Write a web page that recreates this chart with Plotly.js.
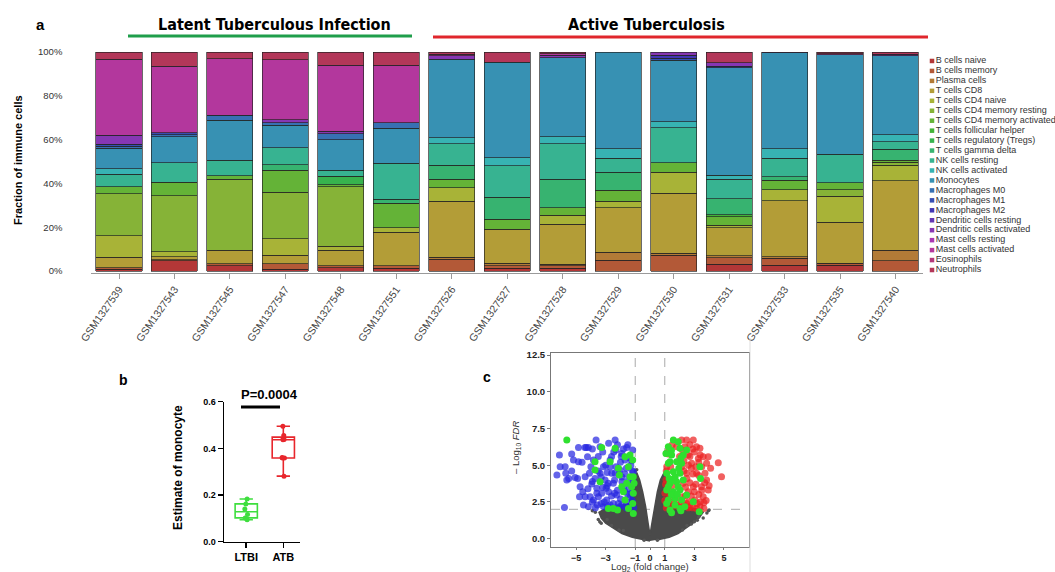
<!DOCTYPE html>
<html><head><meta charset="utf-8">
<script src="https://cdn.plot.ly/plotly-3.0.1.min.js"></script>
<style>html,body{margin:0;padding:0;background:#fff;}#chart{width:1055px;height:572px;}</style>
</head><body><div id="chart"></div>
<script>
// ---------- Panel a data (percent of immune cells) ----------
const samples = ['GSM1327539','GSM1327543','GSM1327545','GSM1327547','GSM1327548','GSM1327551','GSM1327526','GSM1327527','GSM1327528','GSM1327529','GSM1327530','GSM1327531','GSM1327533','GSM1327535','GSM1327540'];
const cellTypes = ['B cells naive','B cells memory','Plasma cells','T cells CD8','T cells CD4 naive','T cells CD4 memory resting','T cells CD4 memory activated','T cells follicular helper','T cells regulatory (Tregs)','T cells gamma delta','NK cells resting','NK cells activated','Monocytes','Macrophages M0','Macrophages M1','Macrophages M2','Dendritic cells resting','Dendritic cells activated','Mast cells resting','Mast cells activated','Eosinophils','Neutrophils'];
const bCellsNaive      = [0.8, 4.6, 2.4, 0.9, 1.5, 1.2, 0, 1.2, 1.2, 0, 0, 3.2, 2.7, 2.7, 0];
const bCellsMemory     = [0.7, 0.5, 0.9, 2.4, 0.9, 1.2, 5.3, 1.2, 1.2, 4.9, 7.3, 2.9, 3.1, 0.8, 4.6];
const plasmaCells      = [0, 0, 0, 0, 0, 0, 1.1, 1.1, 0.8, 3.6, 0.9, 0.9, 0.7, 0, 5.0];
const tCD8             = [4.9, 1.5, 6.1, 4.0, 7.0, 15.2, 25.5, 15.5, 18.1, 20.5, 27.4, 12.8, 25.6, 18.7, 31.6];
const tCD4Naive        = [9.6, 2.2, 0, 7.4, 2.0, 2.2, 6.2, 0, 4.2, 2.8, 9.4, 1.2, 5.1, 12.0, 7.1];
const tCD4MemResting   = [19.3, 25.5, 32.4, 21.3, 27.0, 0, 0, 0, 0, 0, 0, 0, 0, 2.9, 1.4];
const tCD4MemActivated = [3.2, 6.3, 1.8, 9.9, 1.1, 11.1, 3.7, 4.6, 3.4, 5.0, 4.4, 3.8, 4.3, 3.2, 0.9];
const tFollicular      = [0, 0, 0, 0, 0, 0, 0, 0, 0, 0, 0, 1.0, 0, 0, 0];
const tRegs            = [0, 0, 0, 0, 3.8, 0, 0, 0, 0, 0, 0, 0, 0, 0, 0];
const tGammaDelta      = [0, 0, 0, 2.7, 0, 1.8, 6.5, 10.0, 12.9, 8.2, 0, 7.3, 1.5, 0, 5.0];
const nkResting        = [5.8, 8.9, 6.9, 7.8, 2.7, 16.4, 9.9, 14.4, 16.4, 6.4, 16.1, 8.7, 8.4, 13.0, 3.4];
const nkActivated      = [2.3, 0, 0, 0, 0, 0, 2.6, 3.7, 3.0, 4.5, 2.6, 2.0, 4.5, 0, 3.3];
const monocytes        = [9.4, 11.7, 18.3, 10.2, 14.0, 16.2, 35.9, 43.7, 36.1, 44.1, 28.1, 48.9, 43.8, 45.5, 35.9];
const macroM0          = [1.0, 1.0, 2.3, 1.2, 2.6, 2.5, 0, 0, 0, 0, 0, 0, 0, 0, 0];
const macroM1          = [0.8, 0.9, 0, 0, 0, 0, 0, 0, 0, 0, 1.0, 0.8, 0, 0, 0];
const macroM2          = [0, 0, 0, 0, 0, 0, 0, 0, 0, 0, 1.3, 0, 0, 0, 0];
const dcResting        = [0, 0, 0, 0, 0, 0, 0, 0, 0, 0, 0, 0, 0, 0, 0];
const dcActivated      = [4.2, 0, 0, 1.2, 1.2, 0, 1.5, 0, 1.2, 0, 1.5, 1.6, 0.3, 0, 0.8];
const mastResting      = [0, 0, 0, 0, 0, 0, 0, 0, 0, 0, 0, 0, 0, 0, 0];
const mastActivated    = [34.7, 30.4, 25.9, 27.5, 30.1, 26.1, 0.8, 0, 0.8, 0, 0, 0, 0, 0.4, 0];
const eosinophils      = [0, 0, 0, 0, 0, 0, 0, 0, 0, 0, 0, 0, 0, 0, 0];
const neutrophils      = [3.3, 6.5, 3.0, 3.5, 6.1, 6.1, 1.0, 4.6, 0.7, 0, 0, 4.9, 0, 0.8, 1.0];
const cellSeries = [bCellsNaive,bCellsMemory,plasmaCells,tCD8,tCD4Naive,tCD4MemResting,tCD4MemActivated,tFollicular,tRegs,tGammaDelta,nkResting,nkActivated,monocytes,macroM0,macroM1,macroM2,dcResting,dcActivated,mastResting,mastActivated,eosinophils,neutrophils];
const yTickVals = [0, 20, 40, 60, 80, 100];
const yTickText = ['0%', '20%', '40%', '60%', '80%', '100%'];

// ---------- Panel b data ----------
const groupsB = ['LTBI', 'ATB'];
const ltbiMono = [0.094, 0.117, 0.183, 0.102, 0.140, 0.162];
const atbMono  = [0.359, 0.437, 0.361, 0.441, 0.281, 0.495, 0.438, 0.455, 0.359];

// ---------- Panel c data (log2 FC, -log10 FDR) ----------
const greyEnvX = [0, -0.6, -1.2, -1.9, -2.5, -3.0, -3.3, -3.45, -3.1, -1.4, -1.2, -1.05, -0.9, -0.7, -0.5, -0.3, -0.12, 0, 0.12, 0.3, 0.5, 0.7, 0.9, 1.05, 1.2, 1.4, 3.2, 3.6, 3.3, 2.9, 2.4, 1.9, 1.3, 0.6];
const greyEnvY = [-0.15, -0.05, 0.1, 0.35, 0.7, 1.05, 1.4, 1.8, 2.0, 2.4, 3.4, 4.2, 4.5, 4.0, 3.2, 2.2, 1.0, 0.25, 1.0, 2.2, 3.2, 4.0, 4.4, 4.2, 3.4, 2.4, 2.0, 1.8, 1.4, 1.05, 0.7, 0.35, 0.1, -0.05];
const greyPts = [[-3.4,1.15],[-3.5,1.3],[-3.3,1.05],[-2.6,0.9],[-3.7,1.8],[-3.9,1.9],[3.0,1.15],[3.3,1.5],[3.85,1.75],[3.95,1.9],[3.6,1.4],[2.8,1.0],[-1.8,0.55],[2.2,0.6],[-2.9,1.3],[3.2,1.25],[4.0,1.95],[-1.0,4.6],[1.0,4.4],[-0.9,4.7],[-2.1,0.6],[2.5,0.9],[-0.4,-0.1],[0.5,-0.1]];
const bluePts = [[-6.13,5.69],[-6.08,4.9],[-6.3,4.33],[-5.74,4.9],[-5.7,4.45],[-5.63,4.0],[-5.79,2.13],[-5.3,5.76],[-5.18,5.35],[-4.84,6.2],[-4.84,5.24],[-5.07,4.17],[-4.73,3.54],[-4.77,2.86],[-4.55,3.2],[-4.39,4.22],[-4.32,6.2],[-4.17,6.2],[-4.23,5.58],[-4.1,4.45],[-3.94,3.72],[-4.05,2.86],[-4.17,2.18],[-3.83,5.35],[-3.65,6.72],[-3.38,6.26],[-3.72,4.1],[-3.6,3.43],[-3.49,2.86],[-3.56,2.29],[-3.15,4.9],[-3.04,4.0],[-2.97,3.43],[-2.93,2.63],[-2.88,2.22],[-2.7,5.35],[-2.59,4.45],[-2.48,3.77],[-2.36,6.72],[-2.3,6.03],[-2.25,2.97],[-2.14,2.4],[-2.03,4.67],[-1.91,5.8],[-1.58,6.2],[-1.69,5.35],[-1.46,4.0],[-1.35,2.86],[-1.31,2.22],[-1.17,6.03],[-1.13,4.56],[-3.27,3.09],[-2.82,3.77],[-3.83,2.63],[-3.15,2.18],[-4.39,2.86],[-3.38,4.45],[-2.36,4.45],[-1.8,3.54],[-2.03,2.18],[-2.48,2.4],[-1.2,2.6],[-1.5,3.0],[-1.9,2.3],[-2.2,3.3],[-2.6,2.9],[-2.9,3.6],[-3.1,2.5],[-2.4,4.0],[-1.7,4.4],[-1.3,5.0],[-2.0,5.2],[-2.6,5.6],[-3.0,5.0],[-3.5,5.6],[-1.5,6.4],[-2.8,6.5],[-3.9,6.1],[-4.0,4.9],[-3.3,4.2],[-2.7,4.9],[-1.4,3.4],[-1.1,2.1],[-1.6,2.1],[-2.3,2.1],[-2.7,2.3],[-3.3,2.4],[-3.7,2.1],[-4.5,2.3],[-4.9,4.1],[-5.3,4.6],[-4.6,5.2],[-4.4,6.2],[-5.5,4.1],[-1.9,3.9],[-2.1,4.4],[-1.2,4.6],[-1.4,5.5],[-1.8,6.1],[-2.2,6.4],[-3.6,3.1],[-4.2,3.4],[-3.9,2.5],[-1.25,3.1],[-1.6,2.5],[-2.0,2.7],[-2.4,3.1],[-2.8,3.2],[-3.2,3.5],[-1.9,4.2],[-2.3,4.9],[-2.9,4.5],[-1.6,4.8],[-1.25,5.3],[-1.95,5.6],[-2.45,5.9],[-3.2,5.9],[-3.5,4.6],[-3.9,3.9],[-1.15,3.9],[-1.7,3.2]];
const redPts = [[2.14,6.72],[2.48,6.72],[2.93,6.72],[2.36,6.26],[3.15,6.26],[3.38,6.15],[3.6,5.58],[3.94,5.58],[3.83,5.13],[4.1,4.79],[4.62,5.17],[4.84,4.22],[3.72,4.45],[3.83,4.0],[3.94,3.31],[3.6,2.86],[3.65,2.45],[3.38,2.18],[3.04,2.63],[2.93,3.54],[3.15,4.45],[2.82,5.13],[2.59,5.69],[2.48,4.45],[2.59,3.2],[2.48,2.4],[2.03,2.29],[1.58,2.22],[1.13,2.29],[1.01,3.09],[1.08,4.0],[1.13,4.9],[1.24,5.76],[1.8,6.26],[2.14,4.9],[2.25,3.77],[2.2,2.86],[1.8,2.63],[1.35,2.86],[3.27,5.45],[3.49,3.54],[2.7,2.18],[3.15,2.06],[3.65,2.06],[1.1,2.1],[1.3,2.5],[1.6,2.4],[1.9,2.2],[2.3,2.3],[2.6,2.5],[2.9,2.1],[3.2,2.4],[1.2,3.4],[1.5,3.6],[2.4,3.5],[2.7,3.8],[3.0,3.2],[3.3,3.0],[1.1,4.6],[1.4,4.9],[2.3,4.6],[2.6,5.0],[2.9,4.4],[3.1,4.9],[3.3,4.3],[3.5,4.9],[1.2,5.9],[1.5,6.4],[2.2,6.0],[2.7,6.4],[3.0,5.9],[3.4,5.7],[1.0,2.6],[1.05,3.7],[2.4,2.9],[3.7,3.8],[4.0,3.6],[3.8,2.6],[2.0,5.6],[2.7,5.6],[2.6,2.1],[2.8,2.9],[3.1,3.7],[2.5,4.1],[2.8,4.8],[3.3,5.2],[2.9,6.1],[2.3,5.3],[3.5,3.3],[3.4,2.5]];
const greenPts = [[-5.63,6.72],[-3.27,6.2],[-3.72,5.24],[-3.72,4.67],[-3.38,3.88],[-2.36,6.15],[-2.7,5.24],[-2.14,4.79],[-2.07,4.33],[-1.91,3.54],[-1.69,5.58],[-1.46,4.9],[-1.35,4.22],[-1.24,3.54],[-1.13,3.09],[-1.17,2.4],[-1.13,1.72],[-1.46,2.06],[-1.69,2.63],[-1.8,3.2],[-1.58,3.77],[-2.48,2.06],[-2.82,2.06],[-2.2,1.95],[-1.35,5.69],[-1.17,5.35],[-1.13,4.22],[-1.08,3.77],
  [1.58,6.72],[1.91,6.6],[1.24,6.26],[2.03,6.15],[2.25,5.69],[1.46,5.69],[1.24,5.13],[1.8,5.24],[2.14,5.13],[1.13,4.45],[1.58,4.56],[2.03,4.45],[1.35,3.77],[1.8,3.88],[2.25,4.0],[1.13,3.31],[1.58,3.2],[2.03,3.31],[1.24,2.63],[1.69,2.74],[2.14,2.63],[1.35,1.95],[2.03,2.06],[1.46,1.77],[2.09,1.9],[2.36,2.18],[2.48,2.97],[2.93,2.52],[3.38,4.9],[3.42,4.1],[3.33,1.84],[1.35,5.24],[1.08,5.8],[2.48,6.03],[1.58,4.0],[1.91,3.54],[1.24,3.54],[1.69,2.29],[1.13,2.4],[1.45,3.0],[1.85,3.0],[1.7,4.2],[1.95,4.8],[1.45,6.0],[2.1,5.5],[1.3,4.1]];
const volcanoTicksX = [-5, -3, -1, 0, 1, 3, 5];
const volcanoTicksY = [0, 2.5, 5, 7.5, 10, 12.5];
const fcCut = [-1, 1];
const fdrCut = 2;

// ---------- helpers ----------
const W = 1055, H = 572;
const px = v => v / W;
const py = v => 1 - v / H;
const FONT = 'Liberation Sans, Arial, sans-serif';
const palette = cellTypes.map((_, i) => `hsl(${(i * 360 / cellTypes.length).toFixed(1)},53%,46%)`);

const traces = [];
cellSeries.forEach((vals, i) => {
  traces.push({
    type: 'bar', x: samples, y: vals.map(v => v === 0 ? null : v), name: cellTypes[i],
    xaxis: 'x', yaxis: 'y', width: 0.83, showlegend: false, hoverinfo: 'skip',
    marker: { color: palette[i], line: { color: 'rgba(35,35,35,0.85)', width: 0.8 } }
  });
});
// legend drawn as a scatter on its own axis
traces.push({
  type: 'scatter', mode: 'markers+text', xaxis: 'x4', yaxis: 'y4',
  x: cellTypes.map(() => 4), y: cellTypes.map((_, i) => i), text: cellTypes,
  textposition: 'middle right', textfont: { family: FONT, size: 9, color: '#333' },
  marker: { symbol: 'square', size: 4.5, color: palette }, showlegend: false, hoverinfo: 'skip', cliponaxis: false
});
// panel b
traces.push({
  type: 'box', xaxis: 'x2', yaxis: 'y2', x: ltbiMono.map(() => groupsB[0]), y: ltbiMono,
  boxpoints: 'all', jitter: 0.15, pointpos: 0, width: 0.6, whiskerwidth: 0.6, quartilemethod: 'exclusive',
  line: { color: '#3ede3e', width: 1.6 }, fillcolor: 'rgba(0,0,0,0)',
  marker: { color: '#3ede3e', size: 5 }, showlegend: false, hoverinfo: 'skip'
});
traces.push({
  type: 'box', xaxis: 'x2', yaxis: 'y2', x: atbMono.map(() => groupsB[1]), y: atbMono,
  boxpoints: 'all', jitter: 0.15, pointpos: 0, width: 0.6, whiskerwidth: 0.6, quartilemethod: 'exclusive',
  line: { color: '#e8262c', width: 1.6 }, fillcolor: 'rgba(0,0,0,0)',
  marker: { color: '#e8262c', size: 5 }, showlegend: false, hoverinfo: 'skip'
});
// panel c
traces.push({
  type: 'scatter', mode: 'lines', xaxis: 'x3', yaxis: 'y3', x: greyEnvX, y: greyEnvY,
  fill: 'toself', fillcolor: '#4a4a4a', line: { color: '#4a4a4a', width: 1.5 }, showlegend: false, hoverinfo: 'skip'
});
traces.push({
  type: 'scatter', mode: 'markers', xaxis: 'x3', yaxis: 'y3', x: greyPts.map(p => p[0]), y: greyPts.map(p => p[1]),
  marker: { color: '#555', size: 3.5 }, showlegend: false, hoverinfo: 'skip'
});
traces.push({
  type: 'scatter', mode: 'markers', xaxis: 'x3', yaxis: 'y3', x: bluePts.map(p => p[0]), y: bluePts.map(p => p[1]),
  marker: { color: 'rgba(40,40,225,0.72)', size: 7 }, showlegend: false, hoverinfo: 'skip'
});
traces.push({
  type: 'scatter', mode: 'markers', xaxis: 'x3', yaxis: 'y3', x: redPts.map(p => p[0]), y: redPts.map(p => p[1]),
  marker: { color: 'rgba(235,35,35,0.72)', size: 7 }, showlegend: false, hoverinfo: 'skip'
});
traces.push({
  type: 'scatter', mode: 'markers', xaxis: 'x3', yaxis: 'y3', x: greenPts.map(p => p[0]), y: greenPts.map(p => p[1]),
  marker: { color: '#2fe02f', size: 7 }, showlegend: false, hoverinfo: 'skip'
});

const dash = { color: '#aaaaaa', width: 1, dash: 'dash' };
const shapes = [
  { type: 'line', xref: 'paper', yref: 'paper', x0: px(128), x1: px(412), y0: py(36), y1: py(36), line: { color: '#1f9e4b', width: 3 } },
  { type: 'line', xref: 'paper', yref: 'paper', x0: px(433), x1: px(928), y0: py(37), y1: py(37), line: { color: '#e0262c', width: 3 } },
  { type: 'line', xref: 'paper', yref: 'paper', x0: px(241), x1: px(280), y0: py(407), y1: py(407), line: { color: '#000', width: 3 } },
  { type: 'line', xref: 'paper', yref: 'paper', x0: px(750), x1: px(750), y0: py(338), y1: py(572), line: { color: '#dddddd', width: 1 } },
  { type: 'line', xref: 'x3', yref: 'y3 domain', x0: fcCut[0], x1: fcCut[0], y0: 0, y1: 1, line: dash, layer: 'below' },
  { type: 'line', xref: 'x3', yref: 'y3 domain', x0: fcCut[1], x1: fcCut[1], y0: 0, y1: 1, line: dash, layer: 'below' },
  { type: 'line', xref: 'x3 domain', yref: 'y3', x0: 0, x1: 1, y0: fdrCut, y1: fdrCut, line: dash, layer: 'below' }
];

const HEAD = 'Liberation Sans Narrow, DejaVu Sans Condensed, Liberation Sans, sans-serif';
const ann = (text, x, y, size, extra) => Object.assign({ text, xref: 'paper', yref: 'paper', x: px(x), y: py(y), xanchor: 'center', yanchor: 'middle', showarrow: false, font: { family: FONT, size, color: '#000' } }, extra || {});
const annotations = [
  ann('<b>a</b>', 40, 24, 15),
  ann('<b>Latent Tuberculous Infection</b>', 274, 24, 16, { font: { family: HEAD, size: 16, color: '#000' } }),
  ann('<b>Active Tuberculosis</b>', 646, 24, 16, { font: { family: HEAD, size: 16, color: '#000' } }),
  ann('<b>Fraction of immune cells</b>', 18, 160, 11, { textangle: -90 }),
  ann('<b>b</b>', 123, 380, 14),
  ann('<b>Estimate of monocyte</b>', 178, 468, 12, { textangle: -90 }),
  ann('<b>P=0.0004</b>', 269, 394, 13),
  ann('<b>c</b>', 487, 377, 14),
  ann('\u2013 Log<sub>10</sub> <i>FDR</i>', 516, 448, 9.5, { textangle: -90, font: { family: FONT, size: 9.5, color: '#333' } }),
  ann('Log<sub>2</sub> (fold change)', 650, 567, 9.5, { font: { family: FONT, size: 9.5, color: '#333' } })
];

const layout = {
  width: W, height: H, margin: { l: 0, r: 0, t: 0, b: 0 }, paper_bgcolor: '#fff', plot_bgcolor: 'rgba(0,0,0,0)',
  barmode: 'stack', bargap: 0.17, boxmode: 'overlay', showlegend: false, font: { family: FONT },
  xaxis: { domain: [px(91.27), px(923.2)], type: 'category', range: [-0.5, 14.5], anchor: 'y',
    showline: true, linecolor: '#9a9a9a', linewidth: 1, ticks: 'outside', ticklen: 5, tickcolor: '#9a9a9a',
    tickangle: -55, tickfont: { family: FONT, size: 10.5, color: '#444' }, showgrid: false, zeroline: false },
  yaxis: { domain: [py(273), py(52)], range: [-0.9, 100], anchor: 'x', tickmode: 'array', tickvals: yTickVals, ticktext: yTickText,
    ticks: 'outside', ticklen: 26, tickcolor: 'rgba(0,0,0,0)', tickfont: { family: FONT, size: 9.5, color: '#333' },
    showline: false, showgrid: false, zeroline: false },
  xaxis4: { domain: [px(928), 1], range: [0, 127], anchor: 'y4', visible: false, fixedrange: true },
  yaxis4: { domain: [py(275), py(56)], range: [21.5, -0.5], anchor: 'x4', visible: false, fixedrange: true },
  xaxis2: { domain: [px(224), px(300)], type: 'category', range: [-0.6, 1.45], anchor: 'y2',
    showline: true, linecolor: '#000', linewidth: 1.5, ticks: 'outside', ticklen: 5, tickwidth: 1.5, tickcolor: '#000',
    tickfont: { family: FONT, size: 11, color: '#000', weight: 'bold' }, showgrid: false, zeroline: false },
  yaxis2: { domain: [py(541.7), py(401.7)], range: [0, 0.6], anchor: 'x2', tickvals: [0, 0.2, 0.4, 0.6], tickformat: '.1f',
    showline: true, linecolor: '#000', linewidth: 1.5, ticks: 'outside', ticklen: 5, tickwidth: 1.5, tickcolor: '#000',
    tickfont: { family: FONT, size: 9, color: '#000', weight: 'bold' }, showgrid: false, zeroline: false },
  xaxis3: { domain: [px(551), px(749)], range: [-6.7, 6.7], anchor: 'y3', tickvals: volcanoTicksX,
    showline: true, mirror: true, linecolor: '#777', linewidth: 1, ticks: 'outside', ticklen: 2, tickcolor: '#777',
    tickfont: { family: FONT, size: 9, color: '#222', weight: 'bold' }, showgrid: false, zeroline: false },
  yaxis3: { domain: [py(547), py(353)], range: [-0.565, 12.636], anchor: 'x3', tickvals: volcanoTicksY, tickformat: '.1f',
    showline: true, mirror: true, linecolor: '#777', linewidth: 1, ticks: 'outside', ticklen: 3, tickcolor: '#777',
    tickfont: { family: FONT, size: 9.5, color: '#222', weight: 'bold' }, showgrid: false, zeroline: false },
  shapes: shapes, annotations: annotations
};

Plotly.newPlot('chart', traces, layout, { displayModeBar: false, staticPlot: true });
</script></body></html>
